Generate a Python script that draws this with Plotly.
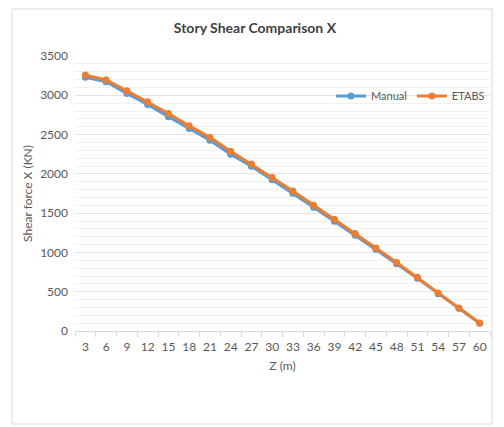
import plotly.graph_objects as go

z_labels = ["3", "6", "9", "12", "15", "18", "21", "24", "27", "30",
            "33", "36", "39", "42", "45", "48", "51", "54", "57", "60"]
manual = [3228, 3172, 3024, 2884, 2726, 2578, 2429, 2251, 2098, 1926,
          1754, 1576, 1397, 1219, 1041, 856, 670, 474, 289, 98]
etabs = [3257, 3194, 3057, 2917, 2769, 2611, 2464, 2289, 2124, 1954,
         1783, 1601, 1423, 1241, 1057, 871, 683, 484, 293, 102]

font_family = "Lato, 'Open Sans', sans-serif"
grey = "#595959"

fig = go.Figure()
fig.add_trace(go.Scatter(x=z_labels, y=manual, name="Manual", mode="lines+markers",
                         line=dict(color="#5B9BD5", width=3),
                         marker=dict(color="#5B9BD5", size=7)))
fig.add_trace(go.Scatter(x=z_labels, y=etabs, name="ETABS", mode="lines+markers",
                         line=dict(color="#ED7D31", width=3),
                         marker=dict(color="#ED7D31", size=7)))

fig.update_layout(
    width=504, height=427,
    margin=dict(l=67, r=22, t=48, b=104),
    paper_bgcolor="white", plot_bgcolor="white",
    font=dict(family=font_family, size=12, color=grey),
    title=dict(text="<b>Story Shear Comparison X</b>", x=0.49, xanchor="center",
               y=1 - 20 / 427, yanchor="middle",
               font=dict(family=font_family, size=14, color="#404040")),
    showlegend=True,
    legend=dict(orientation="h", x=1.0, xanchor="right", y=0.855, yanchor="middle",
                bgcolor="rgba(0,0,0,0)", font=dict(size=11, color=grey),
                itemwidth=30, tracegroupgap=0),
    xaxis=dict(type="category", tickson="boundaries", ticks="outside", ticklen=5,
               range=[-0.5, 19.5], autorange=False,
               tickangle=0, tickcolor="#D9D9D9", showline=True, linecolor="#D9D9D9",
               showgrid=False, zeroline=False, automargin=False, ticklabelstandoff=5,
               title=dict(text="Z (m)", font=dict(size=12, color=grey), standoff=8)),
    yaxis=dict(range=[0, 3500], dtick=500, showgrid=True, gridcolor="#E3E3E3",
               zeroline=False, showline=False, ticks="", automargin=False,
               ticklabelstandoff=6,
               minor=dict(dtick=100, showgrid=True, gridcolor="#F0F0F0"),
               title=dict(text="Shear force X (KN)", font=dict(size=12, color=grey),
                          standoff=4)),
    shapes=[dict(type="rect", xref="paper", yref="paper",
                 x0=-63 / 415, x1=1.005, y0=-93 / 275, y1=322 / 275,
                 line=dict(color="#D9D9D9", width=1))],
)

fig.write_html("out.html")
